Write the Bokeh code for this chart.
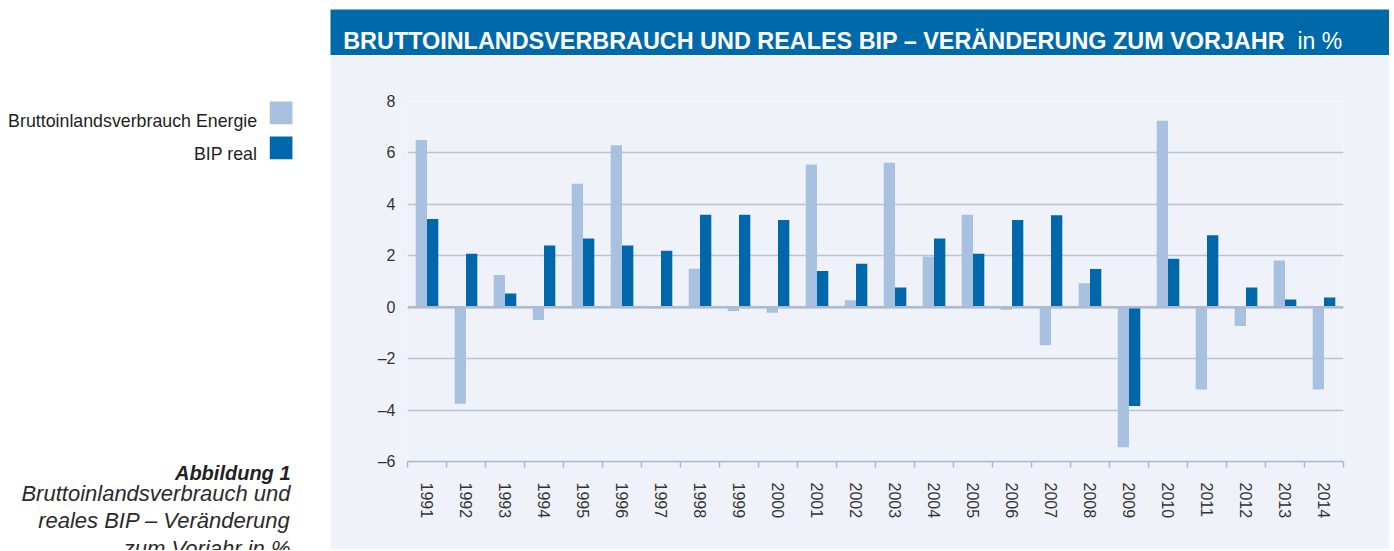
from bokeh.plotting import figure
from bokeh.layouts import row, column
from bokeh.models import Range1d, FixedTicker, Span, ColumnDataSource
from bokeh.transform import dodge
from bokeh.core.properties import value
from bokeh.embed import file_html
from bokeh.resources import INLINE

# ---------------- data ----------------
years = [str(y) for y in range(1991, 2015)]
energie = [6.5, -3.75, 1.25, -0.5, 4.8, 6.3, -0.05, 1.5, -0.15, -0.22, 5.55, 0.27,
           5.62, 1.97, 3.6, -0.1, -1.48, 0.93, -5.45, 7.25, -3.2, -0.73, 1.82, -3.2]
bip = [3.43, 2.08, 0.53, 2.4, 2.67, 2.4, 2.2, 3.6, 3.6, 3.39, 1.41, 1.69,
       0.77, 2.67, 2.08, 3.39, 3.58, 1.49, -3.84, 1.88, 2.8, 0.77, 0.3, 0.38]
y_ticks = [-6, -4, -2, 0, 2, 4, 6, 8]
y_labels = ["–6", "–4", "–2", "0", "2", "4", "6", "8"]
series_names = ["Bruttoinlandsverbrauch Energie", "BIP real"]
title_main = "BRUTTOINLANDSVERBRAUCH UND REALES BIP – VERÄNDERUNG ZUM VORJAHR"
title_unit = "in %"
caption_head = "Abbildung 1"
caption_lines = ["Bruttoinlandsverbrauch und", "reales BIP – Veränderung", "zum Vorjahr in %"]

# ---------------- styles ----------------
PANEL = "#EFF3F9"
LIGHT = "#A9C1E0"
DARK = "#0068AA"
TITLE_BG = "#0069AA"
GRID = "#B9C3D6"
AXIS = "#A9B7CF"
FONT = value("Liberation Sans")

TOTAL_W = 1389
TOTAL_H = 550
LW = 330                 # left column width
RW = TOTAL_W - LW        # right column width
TOP = 55                 # bottom edge of title bar
TOP_GAP = 9
STRIP_H = 1
CHART_H = TOTAL_H - TOP - STRIP_H
BL, BR = 77, 46          # chart left/right borders

# ---------------- title bar (full width, white left/top border) ----------------
tfig = figure(width=TOTAL_W, height=TOP, x_range=Range1d(LW, TOTAL_W),
              y_range=Range1d(TOP, TOP_GAP),
              output_backend="svg", toolbar_location=None, min_border=0,
              min_border_left=LW, min_border_top=TOP_GAP,
              background_fill_color=TITLE_BG, border_fill_color="white",
              outline_line_color=None)
tfig.axis.visible = False
tfig.grid.visible = False
tfig.text(x=[342.7], y=[40.7], text=[title_main], text_font=FONT,
          text_font_size="23.4px", text_font_style="bold", text_color="white",
          text_align="left", text_baseline="alphabetic")
tfig.text(x=[1297], y=[40.7], text=[title_unit], text_font=FONT,
          text_font_size="23px", text_color="white",
          text_align="left", text_baseline="alphabetic")

# ---------------- left column (legend + caption) ----------------
left = figure(width=LW, height=TOTAL_H - TOP, x_range=Range1d(0, LW),
              y_range=Range1d(TOTAL_H, TOP),
              output_backend="svg", toolbar_location=None, min_border=0,
              background_fill_color="white", border_fill_color="white",
              outline_line_color=None)
left.axis.visible = False
left.grid.visible = False

left.text(x=[256.7, 256.7], y=[120, 153.3], text=series_names,
          text_font=FONT, text_font_size="17.8px", text_color="#1e1e1e",
          text_align="right", text_baseline="alphabetic")
left.rect(x=[280.6, 280.6], y=[112.4, 147.4], width=22.7, height=22.7,
          fill_color=[LIGHT, DARK], line_color=None)

left.text(x=[290], y=[472.7], text=[caption_head], text_font=FONT,
          text_font_size="20px", text_font_style="bold italic", text_color="#222222",
          text_align="right", text_baseline="alphabetic")
left.text(x=[290, 290, 290], y=[492.6, 520, 548], text=caption_lines, text_font=FONT,
          text_font_size="22px", text_font_style="italic", text_color="#2a2a2a",
          text_align="right", text_baseline="alphabetic")

# ---------------- chart ----------------
n = len(years)
src = ColumnDataSource(dict(x=[i + 0.5 for i in range(n)], energie=energie, bip=bip))

p = figure(width=RW, height=CHART_H, x_range=Range1d(0, n), y_range=Range1d(-6, 8),
           output_backend="svg", toolbar_location=None,
           min_border_left=BL, min_border_right=BR, min_border_top=46,
           min_border_bottom=CHART_H - 46 - 360,
           background_fill_color=PANEL, border_fill_color=PANEL, outline_line_color=None)

p.vbar(x=dodge("x", -0.145, range=p.x_range), top="energie", bottom=0, width=0.29,
       source=src, fill_color=LIGHT, line_color=None)
p.vbar(x=dodge("x", 0.145, range=p.x_range), top="bip", bottom=0, width=0.29,
       source=src, fill_color=DARK, line_color=None)

p.add_layout(Span(location=0, dimension="width", line_color="#AEBAD0", line_width=2.5))

p.xgrid.visible = False
p.ygrid.ticker = FixedTicker(ticks=y_ticks)
p.ygrid.grid_line_color = GRID
p.ygrid.grid_line_width = 1.5

p.yaxis.ticker = FixedTicker(ticks=y_ticks)
p.yaxis.major_label_overrides = {t: l for t, l in zip(y_ticks, y_labels)}
p.yaxis.axis_line_color = None
p.yaxis.major_tick_line_color = None
p.yaxis.minor_tick_line_color = None
p.yaxis.major_tick_out = 0
p.yaxis.major_label_standoff = 12
p.yaxis.major_label_text_font = "Liberation Sans"
p.yaxis.major_label_text_font_size = "16px"
p.yaxis.major_label_text_color = "#333333"

centers = [i + 0.5 for i in range(n)]
p.xaxis.ticker = FixedTicker(ticks=centers, minor_ticks=list(range(n + 1)))
p.xaxis.major_label_overrides = {c: y for c, y in zip(centers, years)}
p.xaxis.major_label_orientation = "vertical"
p.xaxis.axis_line_color = AXIS
p.xaxis.axis_line_width = 1.5
p.xaxis.major_tick_line_color = None
p.xaxis.major_tick_out = 0
p.xaxis.major_tick_in = 0
p.xaxis.minor_tick_line_color = AXIS
p.xaxis.minor_tick_line_width = 1.5
p.xaxis.minor_tick_out = 6
p.xaxis.minor_tick_in = 0
p.xaxis.major_label_standoff = 15
p.xaxis.major_label_text_font = "Liberation Sans"
p.xaxis.major_label_text_font_size = "16px"
p.xaxis.major_label_text_color = "#333333"

# ---------------- bottom rule ----------------
strip = figure(width=RW, height=STRIP_H, output_backend="svg", toolbar_location=None,
               min_border=0, min_border_left=BL, min_border_right=BR,
               background_fill_color="#5EA8D8", border_fill_color="#5EA8D8",
               outline_line_color=None, x_range=Range1d(0, 1), y_range=Range1d(0, 1))
strip.axis.visible = False
strip.grid.visible = False

layout = column(tfig, row(left, column(p, strip)))
open("out.html", "w").write(file_html(layout, INLINE))
